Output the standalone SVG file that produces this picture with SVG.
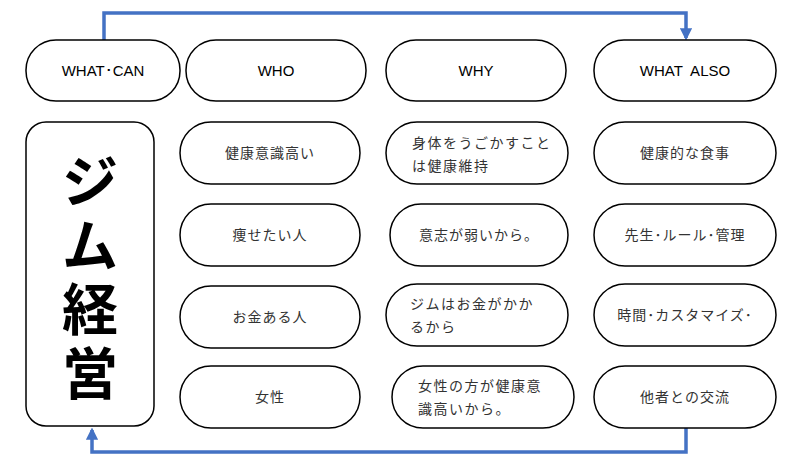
<svg xmlns="http://www.w3.org/2000/svg" width="800" height="468" viewBox="0 0 800 468">
<style>
.n{fill:#fff;stroke:#000;stroke-width:1.5}
.t{font-family:"Noto Sans CJK JP","Liberation Sans",sans-serif;font-size:14px;fill:#333;text-anchor:middle;letter-spacing:1px}
.l{font-family:"Noto Sans CJK JP","Liberation Sans",sans-serif;font-size:14px;fill:#333;text-anchor:start;letter-spacing:1.5px}
.h{font-family:"Liberation Sans",sans-serif;font-size:15px;fill:#000;text-anchor:middle}
.c{fill:none;stroke:#4472C4;stroke-width:3.5}
</style>
<defs><marker id="a" viewBox="0 0 10 10" refX="8" refY="5" markerWidth="3.5" markerHeight="3.5" orient="auto"><path d="M0,0L10,5L0,10z" fill="#4472C4"/></marker></defs>
<rect width="800" height="468" fill="#fff"/>
<g id="connectors">
<path class="c" d="M104,40V13H686V38" marker-end="url(#a)"/>
<path class="c" d="M686,428V452H92V430" marker-end="url(#a)"/>
</g>
<g id="h1"><rect class="n" x="26" y="40" width="154" height="61" rx="30"/><text class="h" x="103" y="76">WHAT･CAN</text></g>
<g id="h2"><rect class="n" x="186" y="40" width="180" height="61" rx="30"/><text class="h" x="276" y="76">WHO</text></g>
<g id="h3"><rect class="n" x="386" y="40" width="180" height="61" rx="30"/><text class="h" x="476" y="76">WHY</text></g>
<g id="h4"><rect class="n" x="594" y="40" width="182" height="61" rx="30"/><text class="h" x="685" y="76" xml:space="preserve">WHAT  ALSO</text></g>
<g id="main"><rect class="n" x="26" y="122" width="128" height="304" rx="20"/>
<text font-family="Noto Sans CJK JP,sans-serif" font-weight="bold" font-size="56" text-anchor="middle" x="90"><tspan x="90" y="202">ジ</tspan><tspan x="90" y="266">ム</tspan><tspan x="90" y="330">経</tspan><tspan x="90" y="394">営</tspan></text></g>
<g id="w1"><rect class="n" x="180" y="122" width="180" height="62" rx="31"/><text class="t" x="270" y="158">健康意識高い</text></g>
<g id="w2"><rect class="n" x="180" y="204" width="180" height="62" rx="31"/><text class="t" x="270" y="240">痩せたい人</text></g>
<g id="w3"><rect class="n" x="180" y="286" width="180" height="62" rx="31"/><text class="t" x="270" y="322">お金ある人</text></g>
<g id="w4"><rect class="n" x="180" y="366" width="180" height="62" rx="31"/><text class="t" x="270" y="402">女性</text></g>
<g id="y1"><rect class="n" x="386" y="122" width="182" height="62" rx="31"/><text class="l" x="412" y="148">身体をうごかすこと</text><text class="l" x="412" y="171">は健康維持</text></g>
<g id="y2"><rect class="n" x="390" y="204" width="178" height="62" rx="31"/><text class="t" x="479" y="240">意志が弱いから。</text></g>
<g id="y3"><rect class="n" x="386" y="284" width="182" height="62" rx="31"/><text class="l" x="410" y="309">ジムはお金がかか</text><text class="l" x="410" y="332">るから</text></g>
<g id="y4"><rect class="n" x="392" y="366" width="182" height="62" rx="31"/><text class="l" x="418" y="391">女性の方が健康意</text><text class="l" x="418" y="414">識高いから。</text></g>
<g id="a1"><rect class="n" x="594" y="122" width="182" height="62" rx="31"/><text class="t" x="685" y="158">健康的な食事</text></g>
<g id="a2"><rect class="n" x="594" y="204" width="182" height="62" rx="31"/><text class="t" x="685" y="240">先生･ルール･管理</text></g>
<g id="a3"><rect class="n" x="594" y="284" width="182" height="62" rx="31"/><text class="t" x="685" y="320">時間･カスタマイズ･</text></g>
<g id="a4"><rect class="n" x="594" y="366" width="182" height="62" rx="31"/><text class="t" x="685" y="402">他者との交流</text></g>
</svg>
